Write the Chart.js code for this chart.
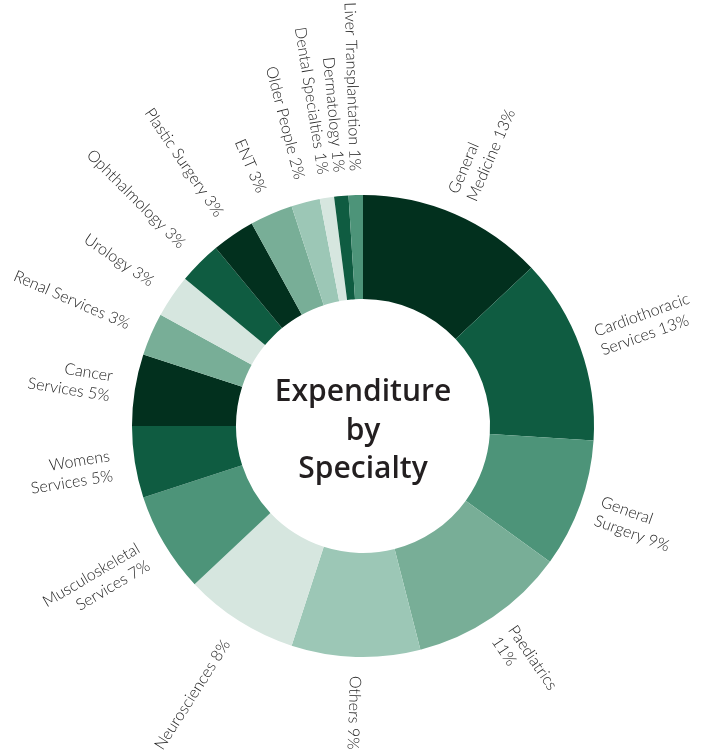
<!DOCTYPE html>
<html>
<head>
<meta charset="utf-8">
<script src="https://cdn.jsdelivr.net/npm/chart.js@4.4.1/dist/chart.umd.min.js"></script>
<style>
  html, body { margin: 0; padding: 0; background: #fff; }
  #wrap { width: 707px; height: 750px; }
</style>
</head>
<body>
<div id="wrap"><canvas id="gastoChart" width="707" height="750"></canvas></div>
<script>
// especialidades, en sentido horario desde arriba
var especialidades = [
    ["General", "Medicine"],
    ["Cardiothoracic", "Services"],
    ["General", "Surgery"],
    ["Paediatrics", ""],
    ["Others"],
    ["Neurosciences"],
    ["Musculoskeletal", "Services"],
    ["Womens", "Services"],
    ["Cancer", "Services"],
    ["Renal Services"],
    ["Urology"],
    ["Ophthalmology"],
    ["Plastic Surgery"],
    ["ENT"],
    ["Older People"],
    ["Dental Specialties"],
    ["Dermatology"],
    ["Liver Transplantation"]
];
var porcentajes = [13, 13, 9, 11, 9, 8, 7, 5, 5, 3, 3, 3, 3, 3, 2, 1, 1, 1];

var verdes = ["#02301e", "#0f5c41", "#4d9479", "#78ae97", "#9cc7b6", "#d6e6df"];
var tonoPorSector = [0, 1, 2, 3, 4, 5, 2, 1, 0, 3, 5, 1, 0, 3, 4, 5, 1, 2];

var etiquetas = especialidades.map(function (lineas, i) {
    var l = lineas.slice();
    var ult = l.length - 1;
    l[ult] = (l[ult] ? l[ult] + " " : "") + porcentajes[i] + "%";
    return l;
});

var etiquetasRadiales = {
    id: "etiquetasRadiales",
    afterDatasetsDraw: function (chart) {
        var ctx = chart.ctx;
        var meta = chart.getDatasetMeta(0);
        ctx.save();
        ctx.font = "300 16px Lato";
        ctx.fillStyle = "#1e1e1e";
        ctx.textBaseline = "middle";
        meta.data.forEach(function (arco, i) {
            var a = (arco.startAngle + arco.endAngle) / 2;
            var grados = ((a + Math.PI / 2) * 180 / Math.PI + 360) % 360;
            var derecha = grados < 190;
            var r = arco.outerRadius + (derecha ? 19 : 24);
            var px = arco.x + Math.cos(a) * r;
            var py = arco.y + Math.sin(a) * r;
            var lineas = etiquetas[i];
            ctx.save();
            ctx.translate(px, py);
            if (derecha) {
                ctx.rotate(a);
                ctx.textAlign = "left";
            } else {
                ctx.rotate(a + Math.PI);
                ctx.textAlign = "right";
            }
            var alto = 20;
            lineas.forEach(function (txt, j) {
                ctx.fillText(txt, 0, (j - (lineas.length - 1) / 2) * alto);
            });
            ctx.restore();
        });
        ctx.restore();
    }
};

var tituloCentro = {
    id: "tituloCentro",
    afterDraw: function (chart) {
        var ctx = chart.ctx;
        var arco = chart.getDatasetMeta(0).data[0];
        ctx.save();
        ctx.font = "600 30px 'Open Sans'";
        ctx.fillStyle = "#231f20";
        ctx.textAlign = "center";
        ctx.textBaseline = "alphabetic";
        ctx.fillText("Expenditure", arco.x, arco.y - 25);
        ctx.fillText("by", arco.x, arco.y + 14);
        ctx.fillText("Specialty", arco.x, arco.y + 52);
        ctx.restore();
    }
};

var ctxP = document.getElementById("gastoChart").getContext("2d");
var miDona = new Chart(ctxP, {
    type: "doughnut",
    data: {
        labels: etiquetas,
        datasets: [
            {
                data: porcentajes,
                backgroundColor: tonoPorSector.map(function (t) { return verdes[t]; }),
                borderWidth: 0
            }
        ]
    },
    options: {
        responsive: false,
        animation: false,
        cutout: "55%",
        layout: { padding: { left: 132, right: 113, top: 195, bottom: 93 } },
        plugins: {
            legend: { display: false },
            tooltip: { enabled: false }
        }
    },
    plugins: [etiquetasRadiales, tituloCentro]
});
</script>
</body>
</html>
